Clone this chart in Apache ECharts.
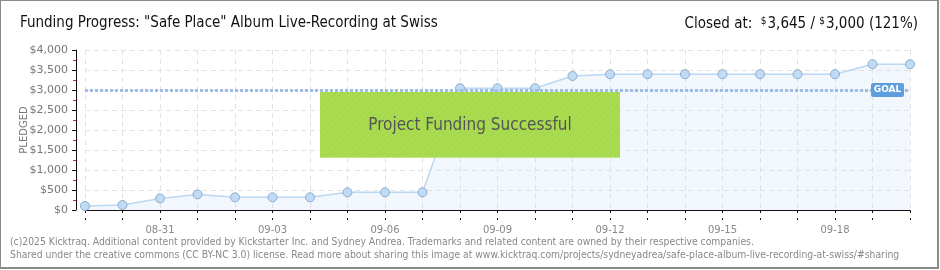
<!DOCTYPE html>
<html><head><meta charset="utf-8">
<script src="https://cdn.jsdelivr.net/npm/echarts@6/dist/echarts.min.js"></script>
<style>html,body{margin:0;padding:0;background:#fff}#c{width:940px;height:270px}</style>
</head><body><div id="c"></div>
<script>
const categories = ['08-29','08-30','08-31','09-01','09-02','09-03','09-04','09-05','09-06','09-07','09-08','09-09','09-10','09-11','09-12','09-13','09-14','09-15','09-16','09-17','09-18','09-19','09-20'];
const pledged = [100,125,290,390,317,317,317,442,442,442,3045,3045,3045,3350,3395,3395,3395,3395,3395,3395,3395,3645,3645];
const goal = 3000;
const yTicks = [0,500,1000,1500,2000,2500,3000,3500,4000];
const titleText = 'Funding Progress: "Safe Place" Album Live-Recording at Swiss';
const footer1 = '(c)2025 Kicktraq. Additional content provided by Kickstarter Inc. and Sydney Andrea. Trademarks and related content are owned by their respective companies.';
const footer2 = 'Shared under the creative commons (CC BY-NC 3.0) license. Read more about sharing this image at www.kicktraq.com/projects/sydneyadrea/safe-place-album-live-recording-at-swiss/#sharing';

const narrow = "'DejaVu Sans Condensed',sans-serif";
const chart = echarts.init(document.getElementById('c'), null, {renderer:'canvas'});

// stripe pattern for success box
const pc = document.createElement('canvas'); pc.width = 6; pc.height = 6;
const g = pc.getContext('2d');
g.fillStyle = '#a6da4c'; g.fillRect(0,0,6,6);
g.strokeStyle = 'rgba(255,255,255,0.10)'; g.lineWidth = 1;
g.beginPath(); g.moveTo(0,6); g.lineTo(6,0); g.stroke();

const fmt = v => '$' + v.toLocaleString('en-US');

chart.setOption({
  animation: false,
  grid: {left: 85, right: 30, top: 50, bottom: 60},
  xAxis: [{
    type: 'category', data: categories, boundaryGap: false, offset: 10,
    axisLine: {lineStyle: {color: '#111', width: 1}},
    axisTick: {show: true, length: 3, interval: 0, lineStyle: {color: '#111'}},
    axisLabel: {interval: (i) => (i - 2) % 3 === 0, color: '#888', fontSize: 10, fontFamily: 'DejaVu Sans', margin: 5},
    splitLine: {show: true, interval: 0, lineStyle: {color: '#e3e3e3', type: [5,4]}}
  },{
    type: 'category', data: categories, boundaryGap: false, offset: 10, position: 'bottom',
    axisLine: {show: false},
    axisTick: {show: true, inside: true, length: 2, interval: 0, lineStyle: {color: '#111'}},
    axisLabel: {show: false}, splitLine: {show: false}
  }],
  yAxis: {
    type: 'value', min: 0, max: 4000, interval: 500, offset: 9,
    name: 'PLEDGED', nameLocation: 'middle', nameGap: 47, nameRotate: 90, nameMoveOverlap: false,
    nameTextStyle: {color: '#777', fontSize: 10, fontFamily: 'DejaVu Sans', letterSpacing: 2},
    axisLine: {show: true, lineStyle: {color: '#111', width: 1}},
    axisTick: {show: true, length: 4, lineStyle: {color: '#111'}},
    minorTick: {show: true, splitNumber: 2, length: 3, lineStyle: {color: '#e02020'}},
    axisLabel: {color: '#777', fontSize: 11, fontFamily: 'DejaVu Sans', margin: 8,
      formatter: v => yTicks.includes(v) ? fmt(v) : ''},
    splitLine: {show: true, lineStyle: {color: '#e3e3e3', type: [5,4]}}
  },
  series: [{
    type: 'line', data: pledged,
    symbol: 'circle', symbolSize: 9,
    lineStyle: {color: '#bcd7f2', width: 1.5},
    itemStyle: {color: '#c0dbf6', borderColor: '#8eabcb', borderWidth: 1},
    areaStyle: {color: 'rgba(200,222,246,0.36)'},
    markLine: {
      silent: true, symbol: 'none',
      lineStyle: {color: '#9dbde4', width: 3, type: [3,2]},
      label: {show: false},
      data: [[{coord: [categories[0], goal]}, {coord: [categories[categories.length-1], goal]}]]
    },
    z: 3
  }],
  graphic: [
    {type: 'rect', shape: {x: 0, y: 0, width: 938, height: 268}, style: {fill: 'none', stroke: '#8a8a8a', lineWidth: 2}, z: 100},
    {type: 'text', left: 20, top: 16, style: {text: titleText, fontSize: 15, fontFamily: narrow, fill: '#111'}},
    {type: 'text', right: 22, top: 16, style: {
      text: '{l|Closed at:  }{s|$}{l|3,645 / }{s|$}{l|3,000 (121%)}',
      rich: {l: {fontSize: 15, fontFamily: narrow, fill: '#111'}, s: {fontSize: 10, fontFamily: narrow, fill: '#111', verticalAlign: 'top', padding: [0,1,6,0]}}
    }},
    {type: 'rect', shape: {x: 320, y: 92, width: 300, height: 66}, style: {fill: {image: pc, repeat: 'repeat'}}, z: 50},
    {type: 'rect', shape: {x: 320, y: 157, width: 300, height: 1}, style: {fill: '#c6e68e'}, z: 51},
    {type: 'text', x: 470, y: 126, z: 52, style: {text: 'Project Funding Successful', fontSize: 17, fontFamily: narrow,
      fill: '#555', align: 'center', verticalAlign: 'middle', textShadowColor: 'rgba(255,255,255,0.8)', textShadowOffsetX: -1, textShadowOffsetY: 1, textShadowBlur: 0}},
    {type: 'rect', shape: {x: 871, y: 83, width: 33, height: 14, r: 2}, style: {fill: '#5f9ede'}, z: 60},
    {type: 'text', x: 887.5, y: 90, z: 61, style: {text: 'GOAL', fontSize: 9, fontFamily: 'DejaVu Sans', fontWeight: 'bold', fill: '#fff', align: 'center', verticalAlign: 'middle'}},
    {type: 'text', left: 10, top: 237, style: {text: footer1, fontSize: 10.3, fontFamily: narrow, fill: '#888'}},
    {type: 'text', left: 10, top: 250, style: {text: footer2, fontSize: 10.3, fontFamily: narrow, fill: '#888'}}
  ]
});
</script></body></html>
